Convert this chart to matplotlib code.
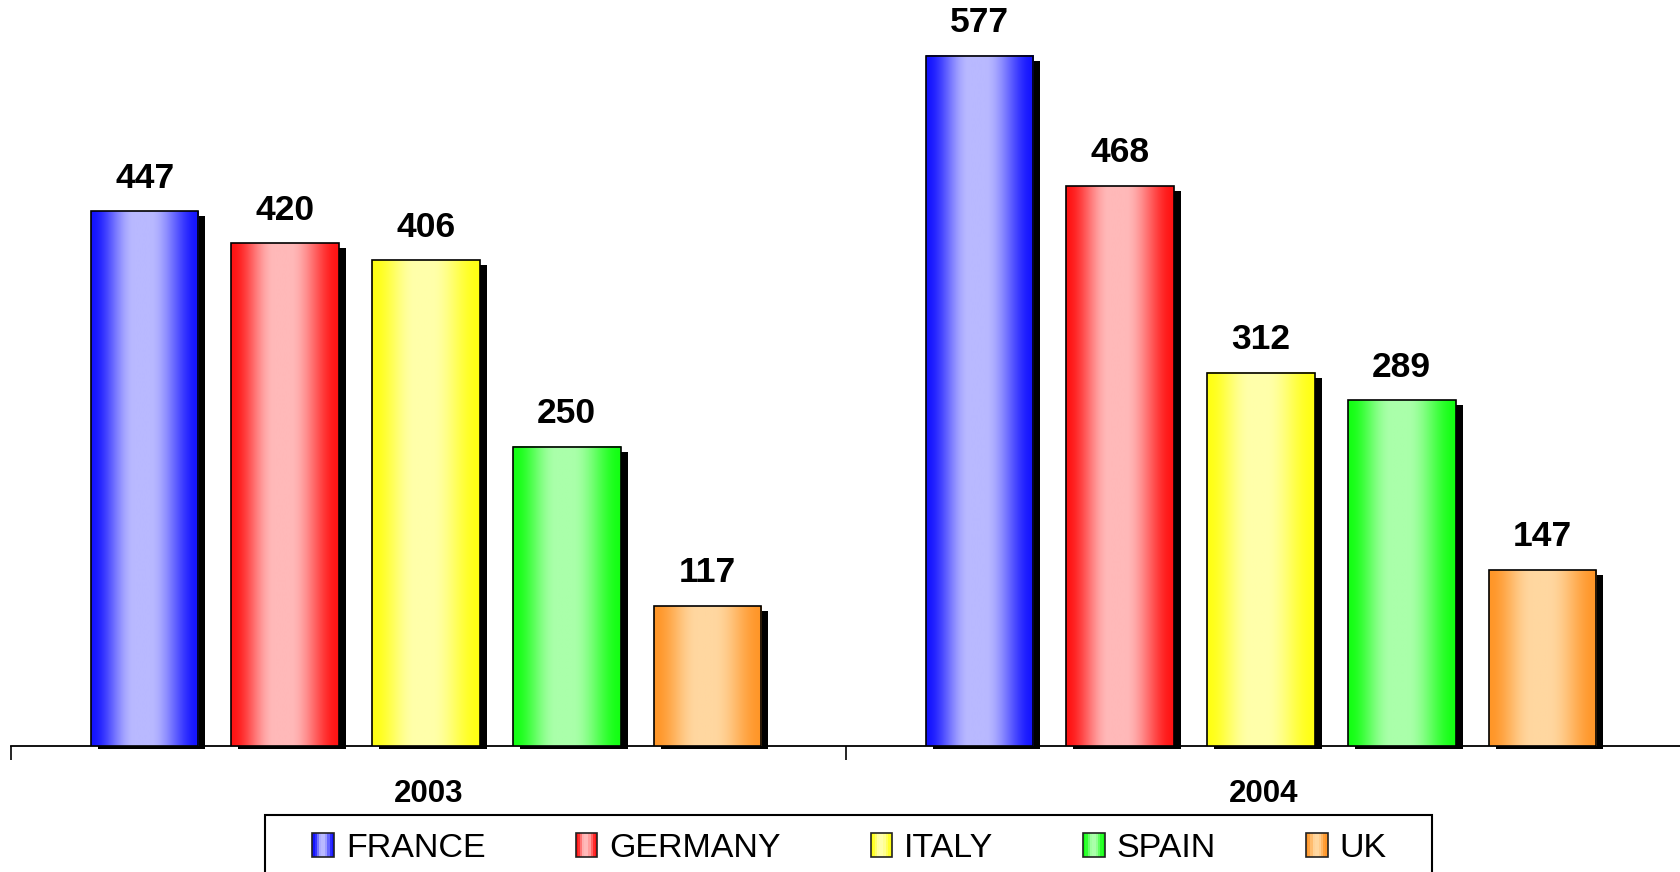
import numpy as np
import matplotlib
matplotlib.use("Agg")
import matplotlib.pyplot as plt
from matplotlib.patches import Rectangle, Patch
from matplotlib.legend_handler import HandlerBase

plt.rcParams['font.family'] = ['Liberation Sans', 'DejaVu Sans']

# ---------------------------
# data
# ---------------------------
years = ['2003', '2004']
countries = ['FRANCE', 'GERMANY', 'ITALY', 'SPAIN', 'UK']
values = {
    'FRANCE':  [447, 577],
    'GERMANY': [420, 468],
    'ITALY':   [406, 312],
    'SPAIN':   [250, 289],
    'UK':      [117, 147],
}

# edge colour / centre colour of the gradient fill
edge_cols = ['#1414ff', '#ff1414', '#ffff14', '#14ff14', '#ff9628']
mid_cols = ['#b9b9ff', '#ffb9b9', '#ffffaa', '#aaffaa', '#ffd7a0']


def hex2rgb(h):
    return np.array([int(h[i:i + 2], 16) for i in (1, 3, 5)]) / 255.0


def gradient(edge, mid, n=200):
    t = np.linspace(0, 1, n)
    w = np.interp(t, [0, 0.4, 0.55, 1], [0, 1, 1, 0])
    w = w * w * (3 - 2 * w)
    e, m = hex2rgb(edge), hex2rgb(mid)
    return (e[None, :] * (1 - w[:, None]) + m[None, :] * w[:, None])[None, :, :]


class GradHandler(HandlerBase):
    def __init__(self, idx):
        super().__init__()
        self.idx = idx

    def create_artists(self, legend, orig_handle, xdescent, ydescent,
                       width, height, fontsize, trans):
        g = gradient(edge_cols[self.idx], mid_cols[self.idx], 10)[0]
        arts = []
        for k in range(10):
            arts.append(Rectangle((-xdescent + k * width / 10, -ydescent), width / 10, height,
                                  facecolor=g[k], edgecolor='none', transform=trans))
        arts.append(Rectangle((-xdescent, -ydescent), width, height, fill=False,
                              edgecolor='#222222', lw=1.2, transform=trans))
        return arts


# ---------------------------
# figure / axes
# ---------------------------
W, H = 1681, 872
fig = plt.figure(figsize=(W / 100, H / 100), dpi=100)
ax = fig.add_axes([11 / W, 126 / H, 1670 / W, 746 / H])

ymax = 623.5
step = 0.1685
bw = 0.129
px_x = 2 / 1670.0          # data units per pixel, x
px_y = ymax / 746.0        # data units per pixel, y
centers = np.arange(len(years)) + 0.5 - 0.003

for i, c in enumerate(countries):
    x = centers + (i - 2) * step
    v = np.array(values[c], dtype=float)
    # drop shadow
    ax.bar(x + 7 * px_x, v - 5 * px_y + 3 * px_y, bw, bottom=-3 * px_y,
           color='black', zorder=1, clip_on=False)
    bars = ax.bar(x, v, bw, facecolor='none', edgecolor='black', lw=1.2, zorder=3)
    grad = gradient(edge_cols[i], mid_cols[i])
    for b in bars:
        ax.imshow(grad, extent=[b.get_x(), b.get_x() + b.get_width(), 0, b.get_height()],
                  aspect='auto', interpolation='bilinear', zorder=2)
    ax.bar_label(bars, padding=12, fontsize=25.5, fontweight='bold')

ax.set_xlim(0, 2)
ax.set_ylim(0, ymax)

for s in ['left', 'right', 'top']:
    ax.spines[s].set_visible(False)
ax.spines['bottom'].set_linewidth(1.3)
ax.spines['bottom'].set_zorder(0.5)
ax.set_yticks([])

ax.set_xticks([0, 1, 2])
ax.set_xticklabels([])
ax.tick_params(axis='x', which='major', length=10, width=1.2, direction='out')
ax.set_xticks(np.arange(len(years)) + 0.5, minor=True)
ax.set_xticklabels(years, minor=True, fontsize=22.5, fontweight='bold')
ax.tick_params(axis='x', which='minor', length=0, pad=24)

# ---------------------------
# legend
# ---------------------------
handles = [Patch(label=c) for c in countries]
hmap = {h: GradHandler(i) for i, h in enumerate(handles)}
fig.legend(handles=handles, handler_map=hmap, loc='upper center',
           bbox_to_anchor=(849.5 / W, 1 - 806 / H), ncol=5, frameon=False,
           fontsize=24.5, handlelength=0.63, handleheight=0.7, handletextpad=0.35,
           columnspacing=2.65, borderpad=0.3)
fig.patches.append(Rectangle((265 / W, -0.05), (1432 - 265) / W, (H - 815) / H + 0.05,
                             transform=fig.transFigure, fill=False, lw=1.5,
                             edgecolor='black'))

fig.savefig('out.png', dpi=100)
